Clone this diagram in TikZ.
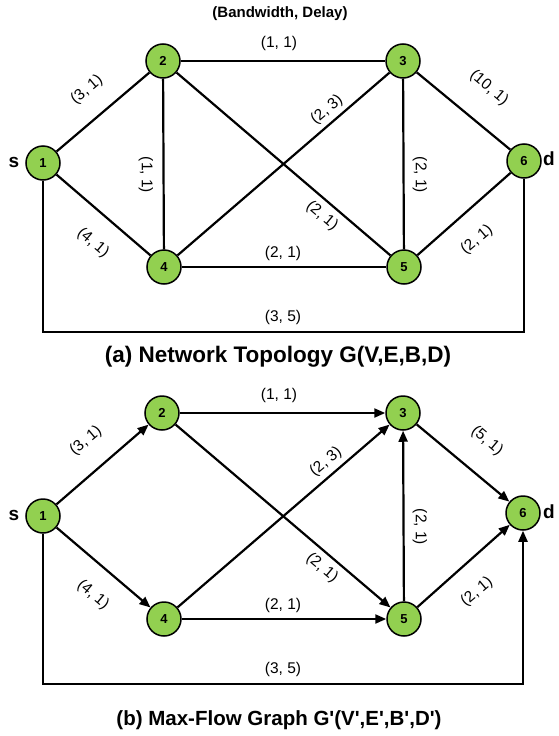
\documentclass[tikz,border=0pt]{standalone}
\usepackage{fontspec}
\setmainfont{Liberation Sans}
\newfontfamily\apfont{Liberation Sans}[Ligatures=ResetAll]
\usetikzlibrary{arrows.meta}
\definecolor{nodegreen}{RGB}{146,208,80}
\newcommand{\sq}{{\apfont\bfseries\char"0027}}
\begin{document}
\begin{tikzpicture}[x=1pt,y=-1pt,
  vtx/.style={circle,draw=black,line width=1.5pt,fill=nodegreen,minimum size=34pt,inner sep=0pt,font=\fontsize{13}{13}\selectfont\bfseries},
  edge/.style={line width=2.2pt,draw=black},
  arr/.style={edge,-{Triangle[length=11pt,width=9pt]}},
  lbl/.style={font=\fontsize{15.5}{15.5}\selectfont,inner sep=0pt},
  side/.style={font=\fontsize{19}{19}\selectfont\bfseries,inner sep=0pt},
  ttla/.style={font=\fontsize{22.5}{22.5}\selectfont\bfseries,inner sep=0pt,anchor=base},
  ttlb/.style={font=\fontsize{20.5}{20.5}\selectfont\bfseries,inner sep=0pt,anchor=base}]
\useasboundingbox (0,0) rectangle (559,736);
% ---------- (a) ----------
\node[font=\fontsize{15}{15}\selectfont\bfseries,inner sep=0pt] (hdr) at (280,14) {(Bandwidth, Delay)};
\node[vtx] (a1) at (43,163) {1};
\node[vtx] (a2) at (163,61) {2};
\node[vtx] (a3) at (403,61) {3};
\node[vtx] (a4) at (164,267) {4};
\node[vtx] (a5) at (404,267) {5};
\node[vtx] (a6) at (524,161) {6};
\node[side] (as) at (14,162) {s};
\node[side] (ad) at (549,159) {d};
\coordinate (ac1) at (43,332);
\coordinate (ac6) at (524,332);
\draw[edge] (a1) -- (a2);
\draw[edge] (a1) -- (a4);
\draw[edge] (a2) -- (a3);
\draw[edge] (a2) -- (a4);
\draw[edge] (a2) -- (a5);
\draw[edge] (a4) -- (a3);
\draw[edge] (a3) -- (a5);
\draw[edge] (a3) -- (a6);
\draw[edge] (a4) -- (a5);
\draw[edge] (a5) -- (a6);
\draw[edge] (a1) -- (ac1) -- (ac6) -- (a6);
\node[lbl,rotate=40] (la12) at (87,90) {(3, 1)};
\node[lbl] (la23) at (279,43) {(1, 1)};
\node[lbl,rotate=-90] (la24) at (146,175) {(1, 1)};
\node[lbl,rotate=40] (la43) at (327,110) {(2, 3)};
\node[lbl,rotate=-40] (la36) at (489,88) {(10, 1)};
\node[lbl,rotate=-90] (la35) at (420,175) {(2, 1)};
\node[lbl,rotate=-40] (la25) at (322,216) {(2, 1)};
\node[lbl,rotate=-40] (la14) at (93,243) {(4, 1)};
\node[lbl] (la45) at (283,253) {(2, 1)};
\node[lbl,rotate=40] (la56) at (477,240) {(2, 1)};
\node[lbl] (la16) at (283,317) {(3, 5)};
\node[ttla] (tta) at (278,362) {(a) Network Topology G(V,E,B,D)};
% ---------- (b) ----------
\node[vtx] (b1) at (43,516) {1};
\node[vtx] (b2) at (162,413) {2};
\node[vtx] (b3) at (403,413) {3};
\node[vtx] (b4) at (164,619) {4};
\node[vtx] (b5) at (404,619) {5};
\node[vtx] (b6) at (523,513) {6};
\node[side] (bs) at (14,515) {s};
\node[side] (bd) at (549,512) {d};
\coordinate (bc1) at (43,684);
\coordinate (bc6) at (523,684);
\draw[arr] (b1) -- (b2);
\draw[arr] (b1) -- (b4);
\draw[arr] (b2) -- (b3);
\draw[arr] (b2) -- (b5);
\draw[arr] (b4) -- (b3);
\draw[arr] (b4) -- (b5);
\draw[arr] (b5) -- (b3);
\draw[arr] (b3) -- (b6);
\draw[arr] (b5) -- (b6);
\draw[arr] (b1) -- (bc1) -- (bc6) -- (b6);
\node[lbl,rotate=40] (lb12) at (86,441) {(3, 1)};
\node[lbl] (lb23) at (279,395) {(1, 1)};
\node[lbl,rotate=40] (lb43) at (326,462) {(2, 3)};
\node[lbl,rotate=-40] (lb36) at (487,441) {(5, 1)};
\node[lbl,rotate=-90] (lb53) at (420,527) {(2, 1)};
\node[lbl,rotate=-40] (lb25) at (322,568) {(2, 1)};
\node[lbl,rotate=-40] (lb14) at (93,595) {(4, 1)};
\node[lbl] (lb45) at (283,605) {(2, 1)};
\node[lbl,rotate=40] (lb56) at (477,592) {(2, 1)};
\node[lbl] (lb16) at (283,669) {(3, 5)};
\node[ttlb] (ttb) at (279,725) {(b) Max-Flow Graph G\sq(V\sq,E\sq,B\sq,D\sq)};
\end{tikzpicture}
\end{document}
